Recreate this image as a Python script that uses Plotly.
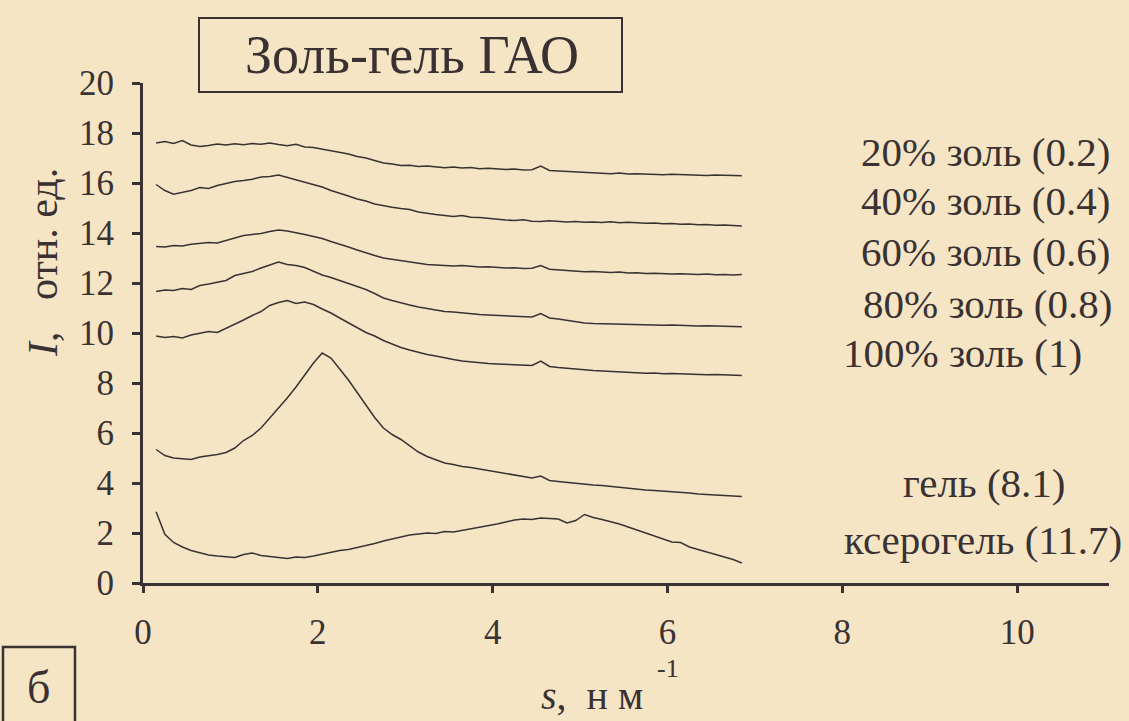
import plotly.graph_objects as go

# ---------------- data ----------------
s_values = [0.15, 0.25, 0.35, 0.45, 0.55, 0.65, 0.75, 0.85, 0.95, 1.05,
            1.15, 1.25, 1.35, 1.45, 1.55, 1.65, 1.75, 1.85, 1.95, 2.05,
            2.15, 2.25, 2.35, 2.45, 2.55, 2.65, 2.75, 2.85, 2.95, 3.05,
            3.15, 3.25, 3.35, 3.45, 3.55, 3.65, 3.75, 3.85, 3.95, 4.05,
            4.15, 4.25, 4.35, 4.45, 4.55, 4.65, 4.75, 4.85, 4.95, 5.05,
            5.15, 5.25, 5.35, 5.45, 5.55, 5.65, 5.75, 5.85, 5.95, 6.05,
            6.15, 6.25, 6.35, 6.45, 6.55, 6.65, 6.75, 6.85]

sol_20 = [17.60, 17.66, 17.58, 17.70, 17.52, 17.46, 17.50, 17.56, 17.52, 17.57,
          17.53, 17.58, 17.55, 17.60, 17.54, 17.49, 17.55, 17.44, 17.42, 17.36,
          17.30, 17.22, 17.16, 17.06, 17.00, 16.90, 16.80, 16.76, 16.70, 16.71,
          16.66, 16.68, 16.63, 16.61, 16.64, 16.60, 16.62, 16.57, 16.59, 16.55,
          16.54, 16.56, 16.52, 16.53, 16.68, 16.50, 16.48, 16.47, 16.44, 16.42,
          16.43, 16.39, 16.37, 16.40, 16.36, 16.37, 16.35, 16.36, 16.33, 16.35,
          16.34, 16.31, 16.33, 16.30, 16.32, 16.30, 16.31, 16.29]

sol_40 = [15.94, 15.70, 15.55, 15.62, 15.70, 15.82, 15.78, 15.90, 15.98, 16.06,
          16.10, 16.15, 16.24, 16.26, 16.32, 16.22, 16.12, 16.04, 15.92, 15.84,
          15.70, 15.60, 15.48, 15.36, 15.28, 15.16, 15.08, 15.03, 14.98, 14.94,
          14.84, 14.78, 14.74, 14.70, 14.66, 14.70, 14.63, 14.62, 14.58, 14.56,
          14.52, 14.50, 14.53, 14.47, 14.46, 14.49, 14.45, 14.44, 14.46, 14.43,
          14.44, 14.42, 14.45, 14.41, 14.43, 14.40, 14.39, 14.40, 14.37, 14.38,
          14.35, 14.36, 14.33, 14.34, 14.31, 14.32, 14.30, 14.28]

sol_60 = [13.46, 13.44, 13.50, 13.48, 13.55, 13.58, 13.62, 13.60, 13.70, 13.78,
          13.90, 13.94, 13.98, 14.06, 14.12, 14.08, 14.02, 13.94, 13.86, 13.78,
          13.66, 13.56, 13.44, 13.32, 13.20, 13.10, 13.00, 12.95, 12.88, 12.84,
          12.78, 12.74, 12.72, 12.70, 12.68, 12.70, 12.66, 12.64, 12.65, 12.62,
          12.60, 12.61, 12.58, 12.59, 12.70, 12.55, 12.52, 12.50, 12.47, 12.45,
          12.46, 12.43, 12.42, 12.44, 12.40, 12.41, 12.38, 12.39, 12.37, 12.36,
          12.37, 12.35, 12.34, 12.36, 12.33, 12.34, 12.32, 12.34]

sol_80 = [11.66, 11.72, 11.70, 11.78, 11.74, 11.90, 11.96, 12.04, 12.10, 12.30,
          12.38, 12.46, 12.60, 12.72, 12.84, 12.74, 12.70, 12.62, 12.46, 12.32,
          12.22, 12.10, 12.00, 11.88, 11.74, 11.58, 11.40, 11.30, 11.20, 11.12,
          11.04, 10.98, 10.92, 10.86, 10.84, 10.80, 10.78, 10.74, 10.72, 10.70,
          10.68, 10.66, 10.67, 10.64, 10.78, 10.60, 10.56, 10.50, 10.44, 10.40,
          10.38, 10.37, 10.36, 10.35, 10.36, 10.34, 10.33, 10.34, 10.31, 10.32,
          10.30, 10.31, 10.28, 10.29, 10.27, 10.28, 10.26, 10.25]

sol_100 = [9.88, 9.82, 9.86, 9.80, 9.92, 10.00, 10.06, 10.02, 10.18, 10.34,
           10.52, 10.70, 10.86, 11.10, 11.22, 11.30, 11.18, 11.24, 11.14, 10.96,
           10.80, 10.60, 10.40, 10.20, 10.02, 9.88, 9.70, 9.56, 9.42, 9.32,
           9.22, 9.14, 9.08, 9.00, 8.94, 8.88, 8.84, 8.82, 8.78, 8.76,
           8.74, 8.72, 8.73, 8.70, 8.88, 8.66, 8.62, 8.58, 8.55, 8.53,
           8.50, 8.48, 8.46, 8.44, 8.43, 8.41, 8.39, 8.40, 8.37, 8.38,
           8.36, 8.35, 8.34, 8.33, 8.34, 8.32, 8.31, 8.30]

gel = [5.34, 5.10, 5.00, 4.96, 4.94, 5.04, 5.08, 5.14, 5.22, 5.40,
       5.70, 5.90, 6.20, 6.60, 6.96, 7.40, 7.84, 8.30, 8.80, 9.20,
       9.00, 8.56, 8.12, 7.62, 7.10, 6.62, 6.20, 5.94, 5.74, 5.50,
       5.24, 5.06, 4.92, 4.80, 4.74, 4.66, 4.62, 4.56, 4.50, 4.44,
       4.38, 4.30, 4.26, 4.20, 4.28, 4.10, 4.06, 4.02, 3.98, 3.95,
       3.92, 3.90, 3.86, 3.82, 3.80, 3.76, 3.72, 3.70, 3.68, 3.64,
       3.62, 3.60, 3.56, 3.54, 3.52, 3.50, 3.48, 3.46]

xerogel = [2.85, 1.95, 1.62, 1.44, 1.30, 1.20, 1.12, 1.08, 1.05, 1.02,
           1.14, 1.20, 1.10, 1.06, 1.00, 0.98, 1.04, 1.02, 1.08, 1.16,
           1.22, 1.30, 1.34, 1.42, 1.48, 1.58, 1.68, 1.76, 1.84, 1.92,
           1.96, 2.00, 1.98, 2.06, 2.04, 2.10, 2.16, 2.24, 2.30, 2.36,
           2.44, 2.52, 2.56, 2.54, 2.60, 2.58, 2.56, 2.40, 2.50, 2.74,
           2.62, 2.54, 2.46, 2.36, 2.24, 2.12, 2.02, 1.90, 1.78, 1.64,
           1.62, 1.44, 1.34, 1.24, 1.14, 1.04, 0.94, 0.80]

series = [sol_20, sol_40, sol_60, sol_80, sol_100, gel, xerogel]
series_labels = ["20% золь (0.2)", "40% золь (0.4)", "60% золь (0.6)",
                 "80% золь (0.8)", "100% золь (1)", "гель (8.1)",
                 "ксерогель (11.7)"]

x_ticks = [0, 2, 4, 6, 8, 10]
y_ticks = [0, 2, 4, 6, 8, 10, 12, 14, 16, 18, 20]

# ---------------- styling / layout ----------------
W, H = 1129, 721
L, R, T, B = 143, 20, 83, 138
PW, PH = W - L - R, H - T - B
BG = "#f5e5c5"
INK = "#3a3232"
FONT = '"Liberation Serif", "Times New Roman", Tinos, serif'
NB = "\u00a0"


def px(x):
    return (x - L) / PW


def py(y):
    return (H - B - y) / PH


fig = go.Figure()
for vals in series:
    fig.add_trace(go.Scatter(x=s_values, y=vals, mode="lines",
                             line=dict(color=INK, width=1.5),
                             showlegend=False, hoverinfo="skip"))

# label positions (pixel centres) for each curve
label_pos = [(985, 152), (985, 201), (985, 252), (987, 304), (962, 353),
             (984, 483), (983, 540)]
annotations = []
for text, (cx, cy) in zip(series_labels, label_pos):
    annotations.append(dict(text=text, x=px(cx), y=py(cy), xref="paper", yref="paper",
                            xanchor="center", yanchor="middle", showarrow=False,
                            font=dict(family=FONT, size=41, color=INK)))

# title in a box
annotations.append(dict(text="Золь-гель ГАО", x=px(412), y=py(55), xref="paper", yref="paper",
                        xanchor="center", yanchor="middle", showarrow=False,
                        font=dict(family=FONT, size=54, color=INK)))
# panel letter
annotations.append(dict(text="б", x=px(38), y=py(687), xref="paper", yref="paper",
                        xanchor="center", yanchor="middle", showarrow=False,
                        font=dict(family=FONT, size=46, color=INK)))
# axis titles
annotations.append(dict(text="<i>s</i>," + NB + NB + "н" + NB + "м", x=px(592), y=py(695),
                        xref="paper", yref="paper",
                        xanchor="center", yanchor="middle", showarrow=False,
                        font=dict(family=FONT, size=40, color=INK)))
annotations.append(dict(text="-1", x=px(668), y=py(668), xref="paper", yref="paper",
                        xanchor="center", yanchor="middle", showarrow=False,
                        font=dict(family=FONT, size=26, color=INK)))
annotations.append(dict(text="<i>I</i>," + NB + NB + NB + "отн. ед.", x=px(43), y=py(263),
                        xref="paper", yref="paper",
                        xanchor="center", yanchor="middle", showarrow=False, textangle=-90,
                        font=dict(family=FONT, size=42, color=INK)))

shapes = [
    dict(type="rect", xref="paper", yref="paper", x0=px(199), x1=px(622), y0=py(92), y1=py(18),
         line=dict(color=INK, width=2), fillcolor=BG, layer="below"),
    dict(type="rect", xref="paper", yref="paper", x0=px(3), x1=px(75), y0=py(730), y1=py(647),
         line=dict(color=INK, width=2.5)),
]

fig.update_layout(
    width=W, height=H,
    margin=dict(l=L, r=R, t=T, b=B),
    paper_bgcolor=BG, plot_bgcolor=BG,
    annotations=annotations, shapes=shapes,
    font=dict(family=FONT, color=INK),
)
fig.update_xaxes(range=[0, 11.05], tickvals=x_ticks, showgrid=False, zeroline=False,
                 showline=True, linecolor=INK, linewidth=3, ticks="outside", ticklen=7,
                 tickwidth=2.5, tickcolor=INK, ticklabelstandoff=9,
                 tickfont=dict(family=FONT, size=35, color=INK))
fig.update_yaxes(range=[0, 20], tickvals=y_ticks, showgrid=False, zeroline=False,
                 showline=True, linecolor=INK, linewidth=3, ticks="outside", ticklen=8,
                 tickwidth=2.5, tickcolor=INK, ticklabelstandoff=11,
                 tickfont=dict(family=FONT, size=35, color=INK))

fig.write_html("out.html", config={"displayModeBar": False},
               post_script="document.body.style.margin='0';document.body.style.padding='0';"
                           "document.documentElement.style.overflow='hidden';")
